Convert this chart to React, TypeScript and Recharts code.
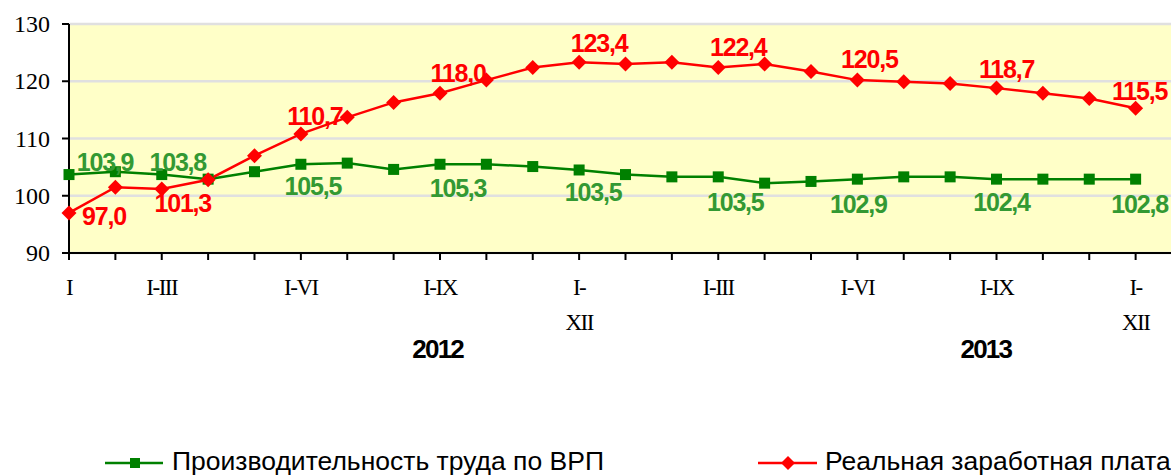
import React from "react";
import { LineChart, Line, XAxis, YAxis, CartesianGrid, LabelList } from "recharts";

// period labels under the axis (24 months, 2012-2013, cumulative)
const periods = [
  "I", "", "I-III", "", "", "I-VI", "", "", "I-IX", "", "", "I-XII",
  "", "", "I-III", "", "", "I-VI", "", "", "I-IX", "", "", "I-XII",
];
const years = ["2012", "2013"];

// Производительность труда по ВРП
const labor = [
  103.7, 104.2, 103.7, 102.9, 104.2, 105.5, 105.7, 104.6, 105.5, 105.5, 105.1, 104.5,
  103.7, 103.3, 103.3, 102.2, 102.5, 102.9, 103.3, 103.3, 102.9, 102.9, 102.9, 102.9,
];
// Реальная заработная плата
const wage = [
  97.0, 101.5, 101.2, 102.8, 107.0, 110.8, 113.7, 116.3, 117.9, 120.2, 122.4, 123.3,
  123.0, 123.3, 122.4, 123.0, 121.7, 120.2, 119.9, 119.6, 118.8, 117.9, 117.0, 115.3,
];

// value labels as printed on the chart
const laborLabels = [
  "103,9", null, "103,8", null, null, "105,5", null, null, "105,3", null, null, "103,5",
  null, null, "103,5", null, null, "102,9", null, null, "102,4", null, null, "102,8",
];
const wageLabels = [
  "97,0", null, "101,3", null, null, "110,7", null, null, "118,0", null, null, "123,4",
  null, null, "122,4", null, null, "120,5", null, null, "118,7", null, null, "115,5",
];

const yTicks = [90, 100, 110, 120, 130];

// layout constants
const GREEN = "#008000";
const GREEN_TEXT = "#339933";
const RED = "#FF0000";
const SERIF = "Liberation Serif, Times New Roman, serif";
const SANS = "Liberation Sans, Arial, sans-serif";
const yearTickPos = [7.95, 19.77];
const laborLabelOffset: Record<number, [number, number]> = {
  0: [36, -13], 2: [16, -13], 5: [12, 22], 8: [18, 24], 11: [14, 22],
  14: [17, 25], 17: [1, 25], 20: [5, 23], 23: [4, 25],
};
const wageLabelOffset: Record<number, [number, number]> = {
  0: [35, 3], 2: [21, 14], 5: [14, -18], 8: [18, -20], 11: [20, -19],
  14: [20, -21], 17: [12, -21], 20: [10, -19], 23: [4, -17],
};

const rows = periods.map((p, i) => ({ idx: i, labor: labor[i], wage: wage[i] }));

const SquareDot = (props: any) => {
  const { cx, cy, index } = props;
  if (cx == null || cy == null) return null;
  return <rect key={`sq-${index}`} x={cx - 5.5} y={cy - 5.5} width={11} height={11} fill={GREEN} />;
};

const DiamondDot = (props: any) => {
  const { cx, cy, index } = props;
  if (cx == null || cy == null) return null;
  const r = 7.5;
  return (
    <path
      key={`dm-${index}`}
      d={`M${cx},${cy - r}L${cx + r},${cy}L${cx},${cy + r}L${cx - r},${cy}Z`}
      fill={RED}
    />
  );
};

const makeLabel =
  (texts: (string | null)[], offsets: Record<number, [number, number]>, color: string) =>
  (props: any) => {
    const { x, y, index } = props;
    const t = texts[index];
    if (!t) return null;
    const [dx, dy] = offsets[index] || [0, -15];
    return (
      <text
        x={x + dx}
        y={y + dy}
        textAnchor="middle"
        dominantBaseline="central"
        style={{ fontFamily: SANS, fontWeight: "bold", fontSize: 25, letterSpacing: -1.2 }}
        fill={color}
      >
        {t}
      </text>
    );
  };

const PeriodTick = ({ x, y, payload }: any) => {
  const label = periods[payload.value];
  if (!label) return null;
  const lines = label === "I-XII" ? ["I-", "XII"] : [label];
  return (
    <g>
      {lines.map((l, i) => (
        <text
          key={i}
          x={x}
          y={y + 33 + i * 35}
          textAnchor="middle"
          style={{ fontFamily: SERIF, fontSize: 23, letterSpacing: -1.5 }}
          fill="#000"
        >
          {l}
        </text>
      ))}
    </g>
  );
};

const ValueTick = ({ x, y, payload }: any) => (
  <text
    x={x}
    y={y}
    dy={8}
    textAnchor="end"
    style={{ fontFamily: SERIF, fontSize: 24 }}
    fill="#000"
  >
    {payload.value}
  </text>
);

const YearTick = ({ x, y, index }: any) => (
  <text
    x={x}
    y={y + 25}
    textAnchor="middle"
    style={{ fontFamily: SANS, fontWeight: "bold", fontSize: 26, letterSpacing: -1.8 }}
    fill="#000"
  >
    {years[index]}
  </text>
);

export default function App() {
  return (
    <div
      style={{
        position: "absolute",
        left: 0,
        top: 0,
        width: 1171,
        height: 475,
        overflow: "hidden",
        background: "#fff",
      }}
    >
      <LineChart
        width={1200}
        height={475}
        data={rows}
        margin={{ top: 24, right: 18, bottom: 82, left: 0 }}
      >
        <CartesianGrid
          vertical={false}
          stroke="#e0e0e0"
          strokeWidth={2.5}
          fill="#FFFFC8"
          fillOpacity={1}
        />
        <XAxis
          dataKey="idx"
          type="number"
          domain={[0, 24]}
          ticks={periods.map((_, i) => i)}
          interval={0}
          height={80}
          tickSize={7}
          axisLine={{ stroke: "#000", strokeWidth: 2 }}
          tickLine={{ stroke: "#000", strokeWidth: 2 }}
          tick={<PeriodTick />}
        />
        <XAxis
          xAxisId="year"
          dataKey="idx"
          type="number"
          domain={[0, 24]}
          ticks={yearTickPos}
          interval={0}
          height={60}
          tickSize={0}
          tickMargin={0}
          axisLine={false}
          tickLine={false}
          tick={<YearTick />}
        />
        <YAxis
          domain={[90, 130]}
          ticks={yTicks}
          interval={0}
          width={69}
          tickSize={7}
          tickMargin={12}
          axisLine={{ stroke: "#000", strokeWidth: 2 }}
          tickLine={{ stroke: "#000", strokeWidth: 2 }}
          tick={<ValueTick />}
        />
        <Line
          dataKey="labor"
          type="linear"
          stroke={GREEN}
          strokeWidth={2.5}
          dot={<SquareDot />}
          activeDot={false}
          isAnimationActive={false}
        >
          <LabelList dataKey="labor" content={makeLabel(laborLabels, laborLabelOffset, GREEN_TEXT)} />
        </Line>
        <Line
          dataKey="wage"
          type="linear"
          stroke={RED}
          strokeWidth={2.5}
          dot={<DiamondDot />}
          activeDot={false}
          isAnimationActive={false}
        >
          <LabelList dataKey="wage" content={makeLabel(wageLabels, wageLabelOffset, RED)} />
        </Line>
      </LineChart>
      <svg
        width={1171}
        height={475}
        style={{ position: "absolute", left: 0, top: 0, pointerEvents: "none" }}
      >
        <line x1={105} x2={163} y1={463} y2={463} stroke={GREEN} strokeWidth={2.5} />
        <rect x={130} y={458} width={10} height={10} fill={GREEN} />
        <text x={172} y={470} style={{ fontFamily: SANS, fontSize: 26.5 }} fill="#000">
          Производительность труда по ВРП
        </text>
        <line x1={758} x2={817} y1={463} y2={463} stroke={RED} strokeWidth={2.5} />
        <path d="M788,456L795,463L788,470L781,463Z" fill={RED} />
        <text x={825} y={470} style={{ fontFamily: SANS, fontSize: 26.5 }} fill="#000">
          Реальная заработная плата
        </text>
      </svg>
    </div>
  );
}
